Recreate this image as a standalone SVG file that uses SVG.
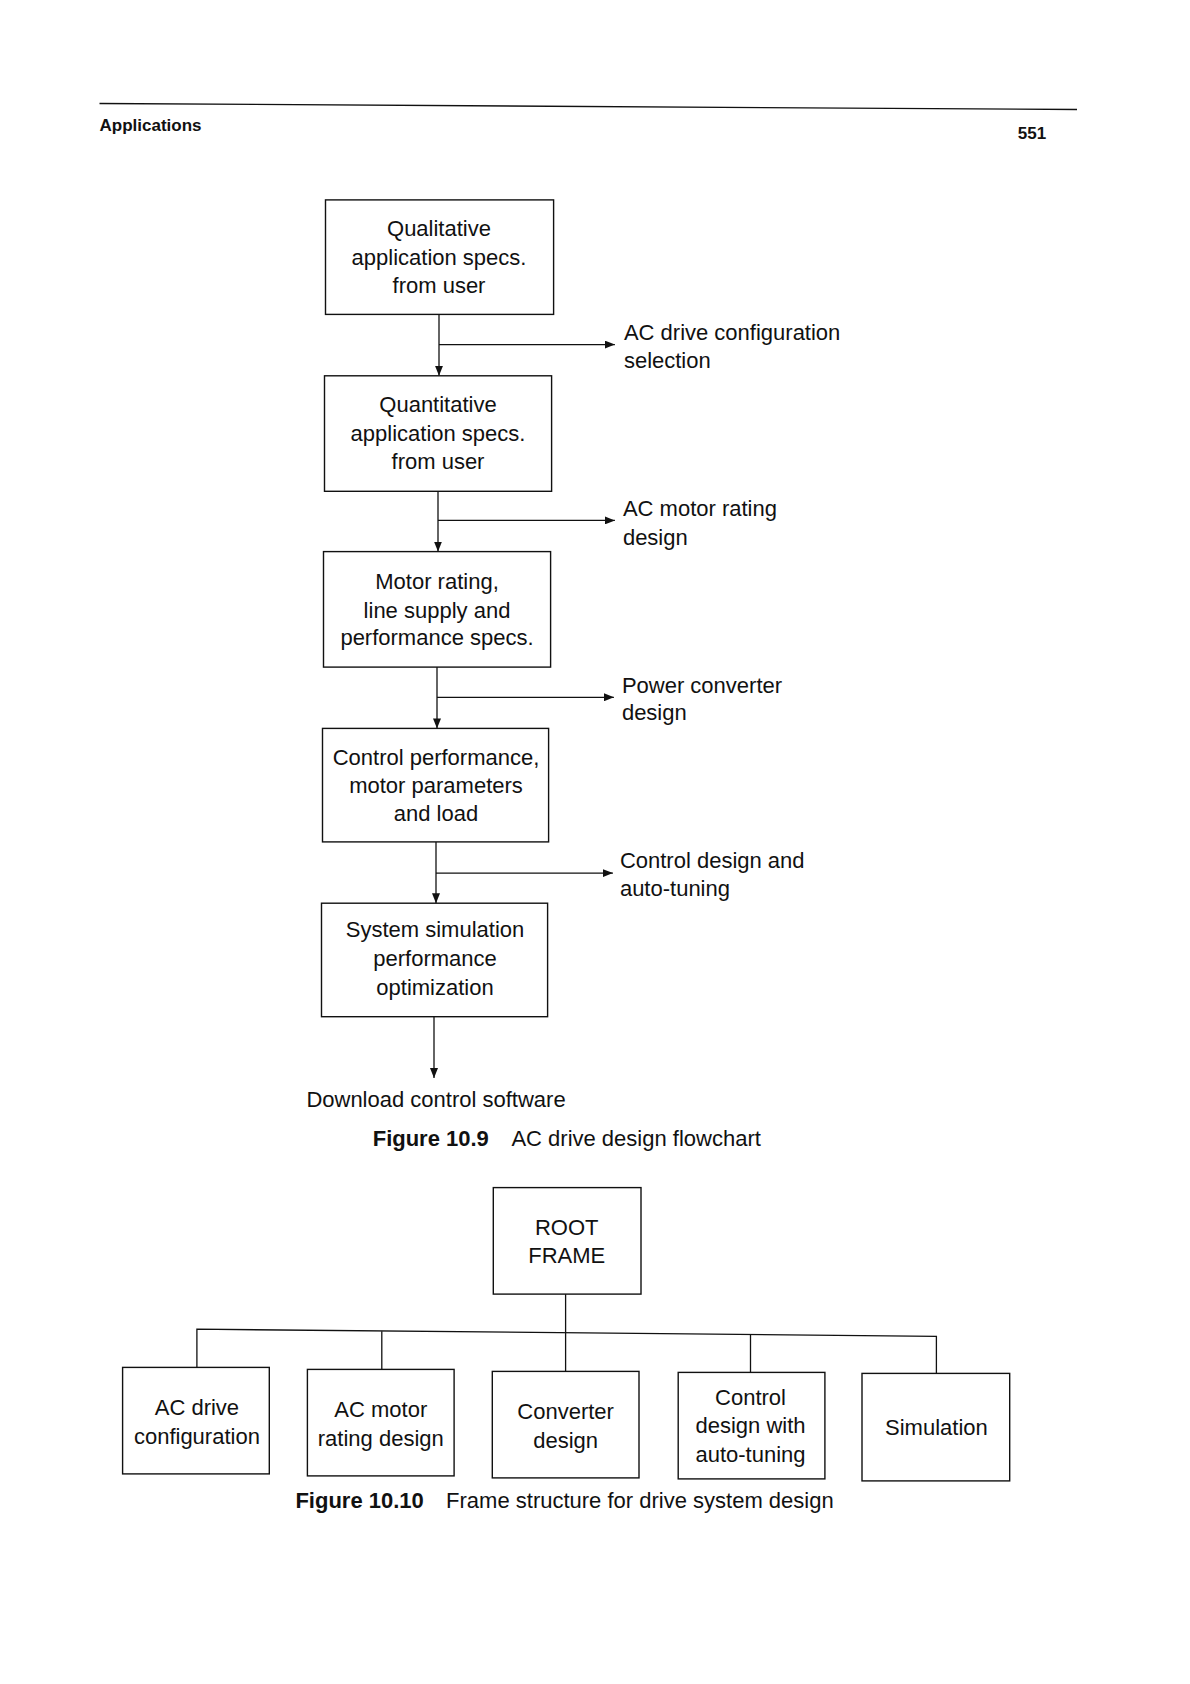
<svg xmlns="http://www.w3.org/2000/svg" width="1190" height="1684" viewBox="0 0 1190 1684">
<style>
.box{fill:#fff;stroke:#111;stroke-width:1.4}
.ln{fill:none;stroke:#111;stroke-width:1.3}
.t{font-family:"Liberation Sans",Arial,sans-serif;font-size:22px;fill:#111}
.c{text-anchor:middle}
.b{font-weight:bold}
.h{font-family:"Liberation Sans",Arial,sans-serif;font-size:17px;font-weight:bold;fill:#111}
</style>
<defs>
<marker id="arr" markerUnits="userSpaceOnUse" markerWidth="10" markerHeight="8" refX="10" refY="4" orient="auto">
<path d="M0,0 L10,4 L0,8 z" fill="#111"/>
</marker>
</defs>
<rect width="1190" height="1684" fill="#fff"/>
<g id="header">
<line x1="99.5" y1="103.5" x2="1077" y2="109.5" class="ln"/>
<text x="99.5" y="130.6" class="h">Applications</text>
<text x="1017.8" y="138.6" class="h">551</text>
</g>
<g id="connectors">
<line x1="439" y1="314.5" x2="439" y2="375.8" class="ln" marker-end="url(#arr)"/>
<line x1="439" y1="344.6" x2="614.9" y2="344.6" class="ln" marker-end="url(#arr)"/>
<line x1="438" y1="491.3" x2="438" y2="551.6" class="ln" marker-end="url(#arr)"/>
<line x1="438" y1="520.4" x2="614.9" y2="520.4" class="ln" marker-end="url(#arr)"/>
<line x1="437" y1="667.1" x2="437" y2="728.4" class="ln" marker-end="url(#arr)"/>
<line x1="437" y1="697.3" x2="613.9" y2="697.3" class="ln" marker-end="url(#arr)"/>
<line x1="436" y1="841.9" x2="436" y2="903.2" class="ln" marker-end="url(#arr)"/>
<line x1="436" y1="873.1" x2="612.9" y2="873.1" class="ln" marker-end="url(#arr)"/>
<line x1="434" y1="1016.8" x2="434" y2="1078" class="ln" marker-end="url(#arr)"/>
<line x1="565.6" y1="1294.1" x2="565.6" y2="1371.4" class="ln"/>
<polyline points="196.9,1367.4 196.9,1329.2 936.4,1336.3 936.4,1373.4" class="ln"/>
<line x1="381.8" y1="1331.2" x2="381.8" y2="1369.4" class="ln"/>
<line x1="750.5" y1="1334.2" x2="750.5" y2="1372.4" class="ln"/>
</g>
<g id="n1">
<rect x="325.5" y="199.9" width="228.1" height="114.5" class="box"/>
<text class="t c" x="439" y="236.1">Qualitative</text>
<text class="t c" x="439" y="265.2">application specs.</text>
<text class="t c" x="439" y="293.4">from user</text>
</g>
<g id="l1">
<text class="t" x="623.9" y="339.6">AC drive configuration</text>
<text class="t" x="623.9" y="367.7">selection</text>
</g>
<g id="n2">
<rect x="324.5" y="375.8" width="227.1" height="115.5" class="box"/>
<text class="t c" x="438" y="411.9">Quantitative</text>
<text class="t c" x="438" y="441.1">application specs.</text>
<text class="t c" x="438" y="469.2">from user</text>
</g>
<g id="l2">
<text class="t" x="622.9" y="516.4">AC motor rating</text>
<text class="t" x="622.9" y="544.5">design</text>
</g>
<g id="n3">
<rect x="323.5" y="551.6" width="227.1" height="115.5" class="box"/>
<text class="t c" x="437" y="588.8">Motor rating,</text>
<text class="t c" x="437" y="617.9">line supply and</text>
<text class="t c" x="437" y="645">performance specs.</text>
</g>
<g id="l3">
<text class="t" x="621.9" y="693.2">Power converter</text>
<text class="t" x="621.9" y="720.4">design</text>
</g>
<g id="n4">
<rect x="322.5" y="728.4" width="226.1" height="113.5" class="box"/>
<text class="t c" x="436" y="764.6">Control performance,</text>
<text class="t c" x="436" y="792.7">motor parameters</text>
<text class="t c" x="436" y="820.8">and load</text>
</g>
<g id="l4">
<text class="t" x="619.9" y="868.1">Control design and</text>
<text class="t" x="619.9" y="896.2">auto-tuning</text>
</g>
<g id="n5">
<rect x="321.5" y="903.2" width="226.1" height="113.5" class="box"/>
<text class="t c" x="435" y="937.4">System simulation</text>
<text class="t c" x="435" y="965.5">performance</text>
<text class="t c" x="435" y="994.7">optimization</text>
</g>
<g id="l5">
<text class="t c" x="436" y="1107.2">Download control software</text>
</g>
<g id="cap1">
<text class="t" x="372.7" y="1146.4"><tspan class="b">Figure 10.9</tspan><tspan x="511.4">AC drive design flowchart</tspan></text>
</g>
<g id="root">
<rect x="493.3" y="1187.6" width="147.7" height="106.5" class="box"/>
<text class="t c" x="566.7" y="1234.8">ROOT</text>
<text class="t c" x="566.7" y="1262.9">FRAME</text>
</g>
<g id="c1">
<rect x="122.6" y="1367.4" width="146.7" height="106.5" class="box"/>
<text class="t c" x="196.9" y="1414.6">AC drive</text>
<text class="t c" x="196.9" y="1443.8">configuration</text>
</g>
<g id="c2">
<rect x="307.4" y="1369.4" width="146.7" height="106.5" class="box"/>
<text class="t c" x="380.8" y="1416.6">AC motor</text>
<text class="t c" x="380.8" y="1445.8">rating design</text>
</g>
<g id="c3">
<rect x="492.3" y="1371.4" width="146.7" height="106.5" class="box"/>
<text class="t c" x="565.6" y="1418.6">Converter</text>
<text class="t c" x="565.6" y="1447.8">design</text>
</g>
<g id="c4">
<rect x="678.2" y="1372.4" width="146.7" height="106.5" class="box"/>
<text class="t c" x="750.5" y="1404.6">Control</text>
<text class="t c" x="750.5" y="1432.7">design with</text>
<text class="t c" x="750.5" y="1461.8">auto-tuning</text>
</g>
<g id="c5">
<rect x="862" y="1373.4" width="147.7" height="107.5" class="box"/>
<text class="t c" x="936.4" y="1434.7">Simulation</text>
</g>
<g id="cap2">
<text class="t" x="295.4" y="1508"><tspan class="b">Figure 10.10</tspan><tspan x="446.1">Frame structure for drive system design</tspan></text>
</g>
</svg>
